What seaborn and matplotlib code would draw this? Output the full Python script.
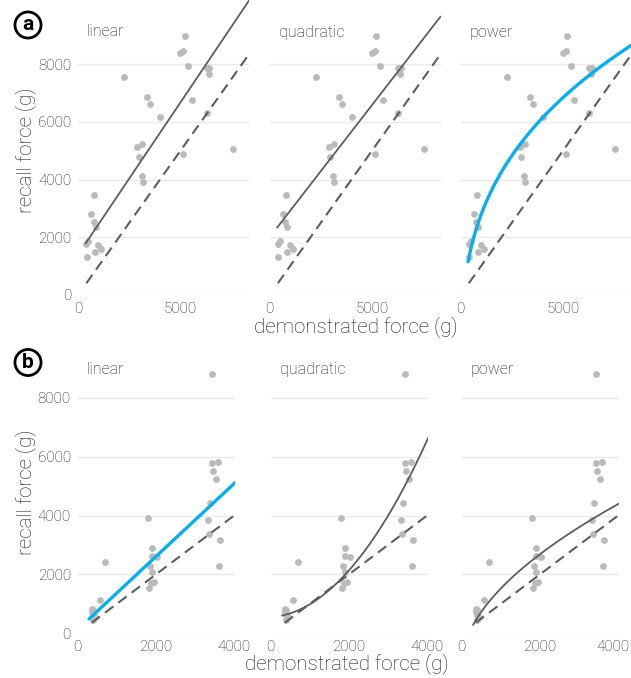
import numpy as np
import pandas as pd
import matplotlib
matplotlib.use("Agg")
import matplotlib.pyplot as plt
import matplotlib.transforms as mtransforms
import seaborn as sns

# ---------------- data ----------------
# row (a)
a_demo = [5211, 5147, 4985, 5392, 6275, 6407, 6373, 2255, 3382, 3529, 5556, 4020,
          6275, 2892, 3137, 2956, 5147, 7549, 3103, 3171, 784, 637, 770, 867,
          407, 505, 995, 1127, 426, 848]
a_recall = [8988, 8468, 8378, 7948, 7857, 7857, 7660, 7567, 6863, 6631, 6748, 6170,
            6297, 5141, 5245, 4783, 4898, 5050, 4125, 3917, 3477, 2796, 2518, 2368,
            1780, 1860, 1722, 1606, 1306, 1490]
# row (b)
b_demo = [358, 373, 399, 442, 399, 380, 420, 570, 698,
          1790, 1909, 1900, 2020, 1857, 1909, 1960, 1883, 1816,
          3435, 3435, 3597, 3460, 3537, 3392, 3340, 3367, 3647, 3614]
b_recall = [825, 734, 621, 564, 452, 780, 520, 1131, 2431,
            3926, 2896, 2636, 2602, 2296, 2071, 1732, 1698, 1528,
            8805, 5793, 5817, 5522, 5240, 4414, 3847, 3372, 3178, 2275]

facet_labels = ["linear", "quadratic", "power"]
best_model = {"a": "power", "b": "linear"}

# fitted model parameters
a_linear = [1397, 1.0556]                 # c + b*x
a_quadratic = [1997, 0.917, 0.0]          # c + b*x + q*x^2
a_power = [-3030, 594, 0.33]              # c + k*x^p
b_linear = [128, 1.239]
b_quadratic = [546, 0.0855, 3.543e-4]
b_power = [-984, 56.1, 0.55]

a_xmax, b_xmax = 8350, 4030
a_ymax, b_ymax = 10230, 9790
a_fit_start, b_fit_start = 370, 290
a_xticks = [0, 5000]
b_xticks = [0, 2000, 4000]
yticks = [0, 2000, 4000, 6000, 8000]

# ---------------- style ----------------
sns.set_theme(style="white")
plt.rcParams["font.family"] = ["Roboto", "DejaVu Sans"]
plt.rcParams["font.weight"] = "light"

W, H = 631, 678
fig = plt.figure(figsize=(W / 100, H / 100), dpi=100)

PT_COLOR = "#bababa"
DARK = "#5c5e5c"
BLUE = "#0aaeea"
GRID = "#e9e9e9"
TXT = "#1a1a1a"


def px_axes(left, top, width, height):
    return fig.add_axes([left / W, 1 - (top + height) / H, width / W, height / H])


def model_curve(kind, params, x):
    if kind == "linear":
        return params[0] + params[1] * x
    if kind == "quadratic":
        return params[0] + params[1] * x + params[2] * x ** 2
    return params[0] + params[1] * np.power(x, params[2])


rows = [
    dict(key="a", demo=a_demo, recall=a_recall, xmax=a_xmax, ymax=a_ymax,
         start=a_fit_start, xticks=a_xticks,
         params={"linear": a_linear, "quadratic": a_quadratic, "power": a_power},
         lefts=[78, 269.5, 460.5], width=171, top=0, height=295, lab_off=32),
    dict(key="b", demo=b_demo, recall=b_recall, xmax=b_xmax, ymax=b_ymax,
         start=b_fit_start, xticks=b_xticks,
         params={"linear": b_linear, "quadratic": b_quadratic, "power": b_power},
         lefts=[77.7, 270.7, 461.7], width=157.6, top=345, height=288.3, lab_off=25),
]

for row in rows:
    df = pd.DataFrame({"demo": row["demo"], "recall": row["recall"]})
    xmin_data = min(row["demo"])
    for i, lab in enumerate(facet_labels):
        ax = px_axes(row["lefts"][i], row["top"], row["width"], row["height"])
        ax.set_xlim(0, row["xmax"])
        ax.set_ylim(0, row["ymax"])
        ax.set_yticks(yticks)
        ax.set_xticks(row["xticks"])
        ax.grid(axis="y", color=GRID, lw=1.0)
        ax.grid(axis="x", visible=False)
        ax.set_axisbelow(True)
        for s in ax.spines.values():
            s.set_visible(False)
        ax.tick_params(length=0, labelsize=11, colors=TXT, pad=5)
        if i > 0:
            ax.set_yticklabels([])

        sns.scatterplot(data=df, x="demo", y="recall", ax=ax, color=PT_COLOR,
                        s=24, linewidth=0, zorder=2)
        # identity (dashed)
        xd = np.array([xmin_data, row["xmax"]], dtype=float)
        sns.lineplot(x=xd, y=xd, ax=ax, color=DARK, lw=1.5, zorder=3)
        ax.lines[-1].set_dashes([5, 3])
        # model fit
        xs = np.linspace(row["start"], row["xmax"], 200)
        ys = model_curve(lab, row["params"][lab], xs)
        best = best_model[row["key"]] == lab
        sns.lineplot(x=xs, y=ys, ax=ax, color=BLUE if best else DARK,
                     lw=2.4 if best else 1.3, zorder=4)
        ax.set_xlabel("")
        ax.set_ylabel("")
        ax.text(9 / row["width"], 1 - row["lab_off"] / row["height"],
                lab, transform=ax.transAxes, fontsize=11.5, color=TXT,
                ha="left", va="center", fontweight="light")
        # keep the last tick label of the right-most panel inside the figure
        if i == 2 and row["key"] == "b":
            fig.canvas.draw()
            last = ax.get_xticklabels()[-1]
            last.set_transform(last.get_transform() +
                               mtransforms.ScaledTranslation(-5 / 100, 0, fig.dpi_scale_trans))

# axis titles
fig.text(356 / W, 1 - 327 / H, "demonstrated force (g)", ha="center", va="center",
         fontsize=14.8, color=TXT, fontweight="light")
fig.text(347 / W, 1 - 664 / H, "demonstrated force (g)", ha="center", va="center",
         fontsize=14.8, color=TXT, fontweight="light")
fig.text(25.5 / W, 1 - 150 / H, "recall force (g)", ha="center", va="center",
         rotation=90, fontsize=14.8, color=TXT, fontweight="light")
fig.text(25.5 / W, 1 - 492 / H, "recall force (g)", ha="center", va="center",
         rotation=90, fontsize=14.8, color=TXT, fontweight="light")

# panel tags
for tag, cy in [("a", 25), ("b", 362.5)]:
    fig.text(28 / W, 1 - cy / H, tag, ha="center", va="center", fontsize=15,
             fontweight="bold", color="black",
             bbox=dict(boxstyle="circle,pad=0.17", fc="white", ec="black", lw=2.0))

fig.savefig("out.png", dpi=100)
